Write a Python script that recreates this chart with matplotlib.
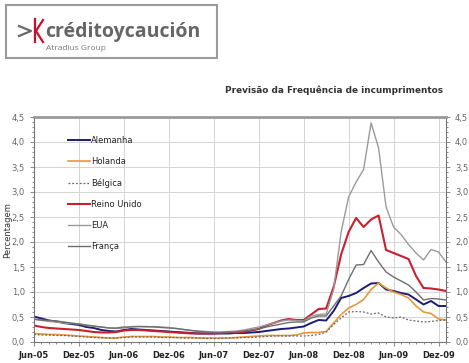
import matplotlib
matplotlib.use("Agg")
import matplotlib.pyplot as plt
from matplotlib.ticker import MultipleLocator, FuncFormatter
from matplotlib.lines import Line2D
from matplotlib.patches import Rectangle

# monthly, Jun-05 .. Jan-10
months = list(range(56))
tick_pos = [0, 6, 12, 18, 24, 30, 36, 42, 48, 54]
tick_labels = ["Jun-05", "Dez-05", "Jun-06", "Dez-06", "Jun-07",
               "Dez-07", "Jun-08", "Dez-08", "Jun-09", "Dez-09"]

alemanha = [0.51, 0.47, 0.43, 0.41, 0.38, 0.36, 0.34, 0.30, 0.28, 0.24, 0.22, 0.21,
            0.24, 0.26, 0.25, 0.24, 0.23, 0.22, 0.21, 0.20, 0.19, 0.18, 0.17, 0.17,
            0.17, 0.17, 0.17, 0.18, 0.18, 0.19, 0.20, 0.22, 0.24, 0.26, 0.27, 0.29,
            0.31, 0.38, 0.44, 0.43, 0.62, 0.88, 0.92, 0.98, 1.08, 1.17, 1.18, 1.05,
            1.02, 0.98, 0.95, 0.85, 0.75, 0.82, 0.72, 0.72]
holanda = [0.17, 0.16, 0.15, 0.15, 0.14, 0.13, 0.12, 0.11, 0.10, 0.09, 0.08, 0.08,
           0.10, 0.11, 0.11, 0.11, 0.11, 0.10, 0.10, 0.09, 0.09, 0.09, 0.08, 0.08,
           0.08, 0.08, 0.08, 0.09, 0.10, 0.11, 0.12, 0.13, 0.13, 0.13, 0.13, 0.14,
           0.18, 0.19, 0.19, 0.21, 0.38, 0.55, 0.68, 0.75, 0.85, 1.05, 1.18, 1.08,
           1.00, 0.95, 0.88, 0.72, 0.60, 0.57, 0.46, 0.44]
belgica = [0.15, 0.14, 0.14, 0.13, 0.13, 0.12, 0.11, 0.10, 0.09, 0.08, 0.08, 0.08,
           0.09, 0.10, 0.10, 0.10, 0.10, 0.09, 0.09, 0.09, 0.08, 0.08, 0.08, 0.07,
           0.07, 0.07, 0.08, 0.08, 0.09, 0.09, 0.10, 0.11, 0.12, 0.12, 0.12, 0.12,
           0.12, 0.13, 0.15, 0.20, 0.35, 0.48, 0.60, 0.61, 0.60, 0.56, 0.58, 0.50,
           0.48, 0.50, 0.44, 0.42, 0.40, 0.41, 0.43, 0.44]
reino_unido = [0.33, 0.30, 0.28, 0.27, 0.26, 0.25, 0.24, 0.22, 0.20, 0.19, 0.19, 0.20,
               0.23, 0.24, 0.24, 0.23, 0.22, 0.21, 0.20, 0.19, 0.18, 0.17, 0.17, 0.17,
               0.17, 0.18, 0.19, 0.19, 0.20, 0.23, 0.26, 0.33, 0.38, 0.43, 0.46, 0.44,
               0.44, 0.55, 0.66, 0.67, 1.10, 1.75, 2.20, 2.48, 2.30, 2.45, 2.53, 1.84,
               1.78, 1.72, 1.66, 1.32, 1.08, 1.07, 1.05, 1.02]
eua = [0.45, 0.43, 0.41, 0.40, 0.38, 0.37, 0.36, 0.33, 0.31, 0.30, 0.28, 0.27,
       0.28, 0.31, 0.31, 0.30, 0.31, 0.30, 0.29, 0.27, 0.25, 0.23, 0.22, 0.21,
       0.20, 0.20, 0.21, 0.22, 0.24, 0.27, 0.30, 0.34, 0.38, 0.42, 0.44, 0.43,
       0.42, 0.52, 0.55, 0.56, 1.05, 2.20, 2.90, 3.20, 3.45, 4.38, 3.88, 2.70,
       2.30, 2.15, 1.95, 1.78, 1.64, 1.85, 1.80, 1.60]
franca = [0.46, 0.44, 0.43, 0.42, 0.40, 0.38, 0.36, 0.34, 0.32, 0.30, 0.28, 0.28,
          0.30, 0.30, 0.31, 0.31, 0.30, 0.29, 0.28, 0.27, 0.25, 0.23, 0.21, 0.20,
          0.19, 0.19, 0.20, 0.20, 0.22, 0.24, 0.26, 0.30, 0.33, 0.36, 0.39, 0.40,
          0.40, 0.48, 0.52, 0.52, 0.72, 0.92, 1.25, 1.54, 1.55, 1.83, 1.60, 1.40,
          1.30, 1.22, 1.14, 1.00, 0.84, 0.87, 0.86, 0.84]

plt.rcParams["font.family"] = ["DejaVu Sans"]

fig = plt.figure(figsize=(4.69, 3.63), dpi=100)

# logo
fig.patches.append(Rectangle((6 / 469, 1 - 58 / 363), 211 / 469, 53 / 363,
                             transform=fig.transFigure, fill=False,
                             edgecolor="#9a9a9a", linewidth=1.5))
fig.lines.append(Line2D([19 / 469, 31 / 469, 19 / 469],
                        [1 - 26 / 363, 1 - 31 / 363, 1 - 36 / 363],
                        transform=fig.transFigure, color="#6a6a6a", lw=1.6))
fig.lines.append(Line2D([35 / 469, 35 / 469], [1 - 19 / 363, 1 - 42 / 363],
                        transform=fig.transFigure, color="#c8102e", lw=1.6))
fig.lines.append(Line2D([43 / 469, 36 / 469, 43 / 469],
                        [1 - 20 / 363, 1 - 31 / 363, 1 - 42 / 363],
                        transform=fig.transFigure, color="#c8102e", lw=1.6))
fig.text(45 / 469, 1 - 37 / 363, "créditoycaución", fontsize=14, fontweight="bold",
         color="#666666", family="Open Sans", va="baseline", ha="left")
fig.text(46 / 469, 1 - 50 / 363, "Atradius Group", fontsize=6, color="#777777",
         family="Open Sans", va="baseline", ha="left")

fig.text(443 / 469, 1 - 90 / 363, "Previsão da Frequência de incumprimentos",
         fontsize=6.4, fontweight="bold", color="#333333", ha="right", va="center")

ax = fig.add_axes([34 / 469, 21 / 363, 412 / 469, 225 / 363])

ax.plot(months, alemanha, color="#1c1c78", lw=1.4, label="Alemanha")
ax.plot(months, holanda, color="#e8963c", lw=1.2, label="Holanda")
ax.plot(months, belgica, color="#666666", lw=0.9, ls=(0, (1.5, 1.5)), label="Bélgica")
ax.plot(months, reino_unido, color="#c8202e", lw=1.5, label="Reino Unido")
ax.plot(months, eua, color="#9a9a9a", lw=1.0, label="EUA")
ax.plot(months, franca, color="#6e6e6e", lw=1.0, label="França")

ax.set_xlim(0, 55)
ax.set_ylim(0, 4.5)
ax.set_xticks(tick_pos)
ax.set_xticklabels(tick_labels)
ax.xaxis.set_minor_locator(MultipleLocator(1))
ax.yaxis.set_major_locator(MultipleLocator(0.5))
ax.yaxis.set_minor_locator(MultipleLocator(0.1))
fmt = FuncFormatter(lambda v, p: f"{v:.1f}".replace(".", ","))
ax.yaxis.set_major_formatter(fmt)
ax.grid(True, which="major", color="#d4d4d4", lw=0.7)
ax.set_axisbelow(True)

for side in ["left", "right", "bottom"]:
    ax.spines[side].set_color("#777777")
    ax.spines[side].set_linewidth(0.8)
ax.spines["top"].set_color("#9a9a9a")
ax.spines["top"].set_linewidth(2)

ax.tick_params(axis="y", which="both", left=True, right=True, labelleft=True,
               labelright=True, direction="out", colors="#777777",
               labelcolor="#666666", labelsize=6, length=3, width=0.6)
ax.tick_params(axis="y", which="minor", length=1.5)
ax.tick_params(axis="x", which="both", direction="out", colors="#777777",
               labelsize=6, length=3, width=0.6)
ax.tick_params(axis="x", which="minor", length=1.5)
for lbl in ax.get_xticklabels():
    lbl.set_color("#222222")
    lbl.set_fontweight("bold")

# y label placed in figure coordinates so it stays inside the canvas
fig.text(8 / 469, 1 - 230 / 363, "Percentagem", fontsize=6, color="#333333",
         rotation=90, ha="center", va="center")

ax.legend(loc="upper left", bbox_to_anchor=(34 / 412, 1 - 19 / 225), frameon=False,
          fontsize=6, labelspacing=1.45, handlelength=2.6, handletextpad=0.2,
          borderpad=0, borderaxespad=0, labelcolor="#222222")

fig.savefig("out.png", dpi=100)
